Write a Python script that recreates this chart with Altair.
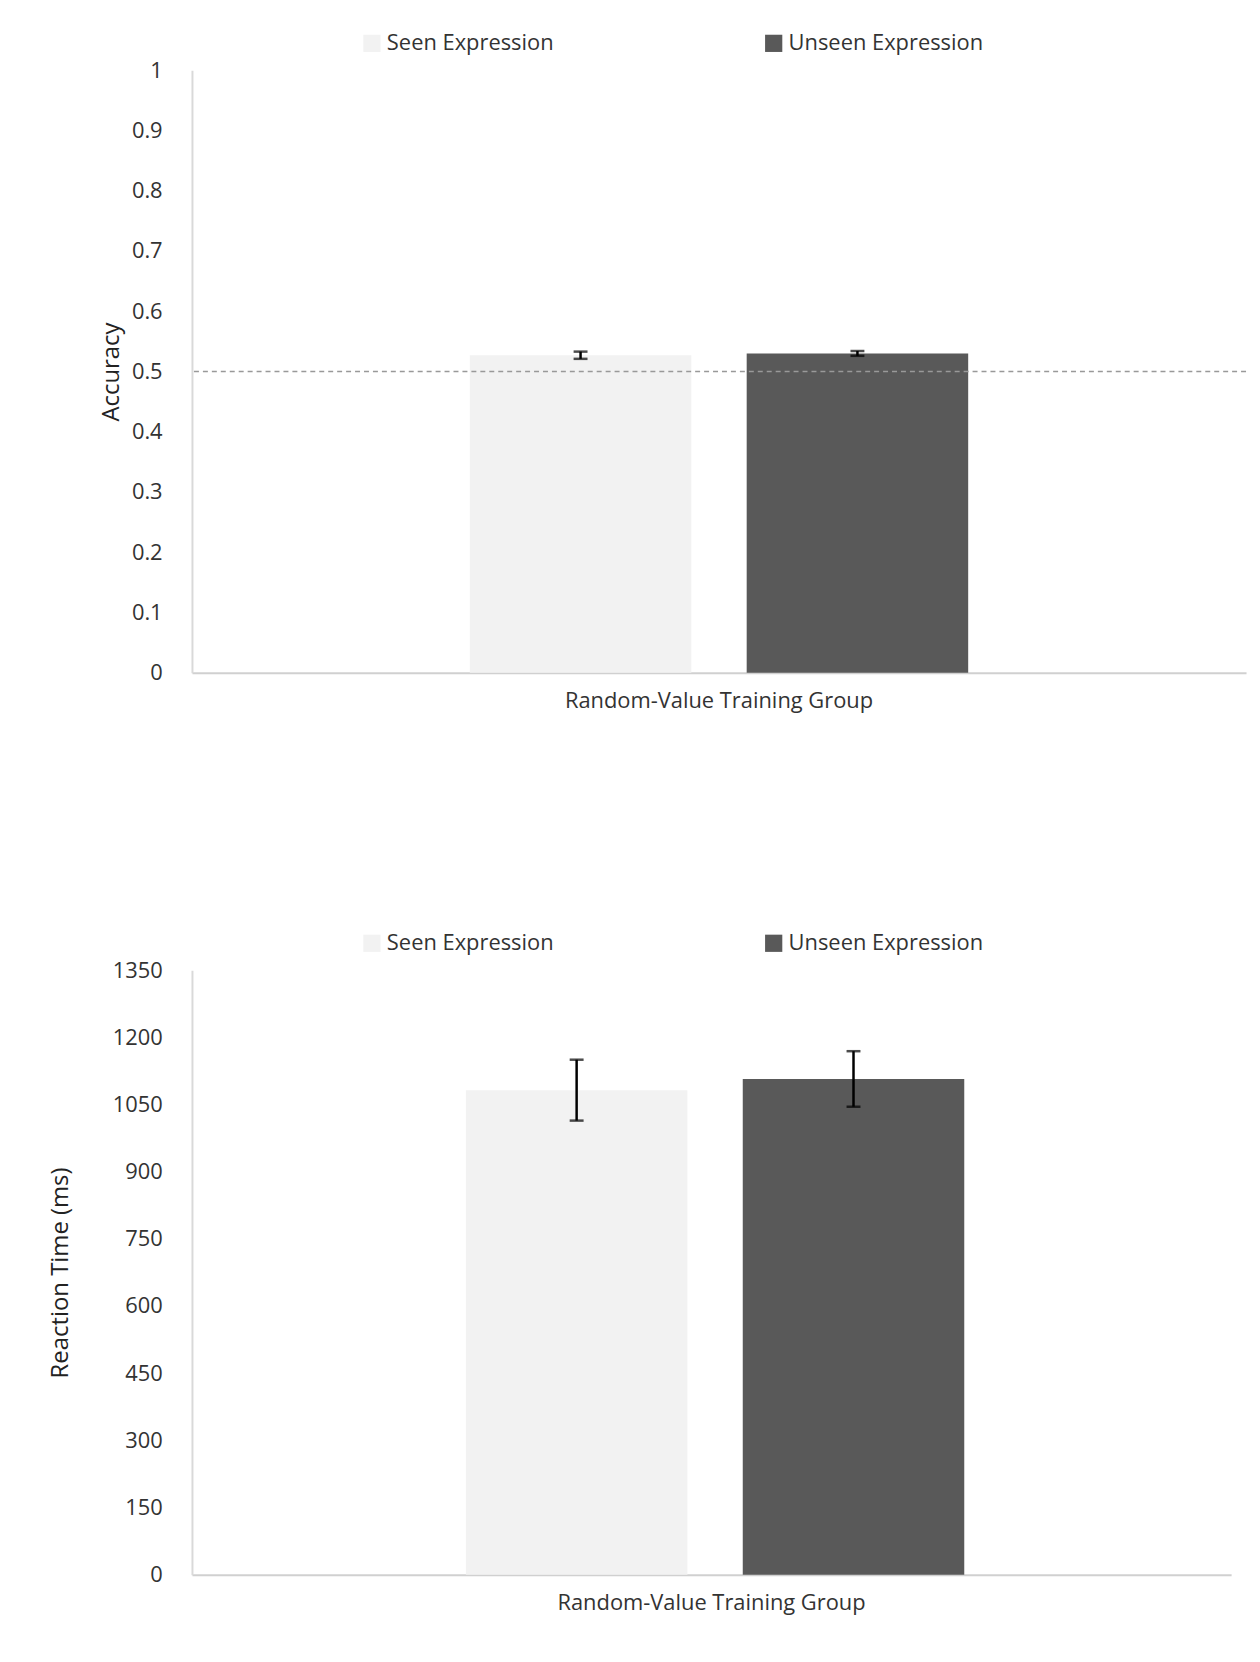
import pandas as pd
import altair as alt

group = "Random-Value Training Group"
series = ["Seen Expression", "Unseen Expression"]
colors = ["#f2f2f2", "#595959"]

acc_mean = [0.527, 0.530]
acc_err = [0.006, 0.004]
rt_mean = [1082, 1107]
rt_err = [68, 62]

FONT = "Open Sans"


def panel(means, errs, ytitle, ymax, ystep, fmt, title_pad, ref=None):
    df = pd.DataFrame({
        "g": [group] * 2,
        "s": series,
        "v": means,
        "lo": [m - e for m, e in zip(means, errs)],
        "hi": [m + e for m, e in zip(means, errs)],
    })
    x = alt.X("g:N", title=None,
              scale=alt.Scale(paddingOuter=0.446),
              axis=alt.Axis(labelAngle=0, labelFontSize=22, labelColor="#333",
                            labelPadding=18, labelLimit=600, ticks=False,
                            domainColor="#d0d0d0", domainWidth=2))
    xo = alt.XOffset("s:N", sort=series,
                     scale=alt.Scale(paddingInner=0.2, paddingOuter=0))
    y = alt.Y("v:Q", title=ytitle,
              scale=alt.Scale(domain=[0, ymax], nice=False),
              axis=alt.Axis(values=[round(i * ystep, 2) for i in range(int(round(ymax / ystep)) + 1)],
                            format=fmt, grid=False, ticks=False, labelFontSize=22,
                            labelColor="#333", labelPadding=30, titleFontSize=24,
                            titleFontWeight="normal", titleColor="#222",
                            titlePadding=title_pad,
                            domainColor="#d9d9d9", domainWidth=2))
    bars = alt.Chart(df).mark_bar().encode(
        x=x, xOffset=xo, y=y,
        color=alt.Color("s:N", sort=series,
                        scale=alt.Scale(domain=series, range=colors),
                        legend=alt.Legend(title=None, orient="none", direction="horizontal",
                                          legendX=170, legendY=-38, columnPadding=210,
                                          symbolType="square", symbolSize=300,
                                          symbolStrokeWidth=0, labelFontSize=22,
                                          labelLimit=400, labelColor="#333")),
    )
    rule = alt.Chart(df).mark_rule(color="black", strokeWidth=2.5).encode(
        x=alt.X("g:N"), xOffset=xo, y="lo:Q", y2="hi:Q")
    caps = []
    for f in ["lo", "hi"]:
        caps.append(alt.Chart(df).mark_tick(color="black", thickness=2.5, size=14,
                                            orient="horizontal").encode(
            x=alt.X("g:N"), xOffset=xo, y=f"{f}:Q"))
    layers = [bars, rule] + caps
    if ref is not None:
        rdf = pd.DataFrame({"r": [ref]})
        layers.append(alt.Chart(rdf).mark_rule(color="#999", strokeDash=[5, 4],
                                               strokeWidth=1.5).encode(y="r:Q"))
    return alt.layer(*layers)


top = panel(acc_mean, acc_err, "Accuracy", 1.0, 0.1, "~g", 8, ref=0.5).properties(
    width=1060, height=606)
bottom = panel(rt_mean, rt_err, "Reaction Time (ms)", 1350, 150, "d", 40).properties(
    width=1045, height=608)

chart = alt.vconcat(top, bottom, spacing=222).configure(
    font=FONT, padding={"left": 40, "top": 20, "right": 5, "bottom": 5}
).configure_view(strokeWidth=0).resolve_scale(color="independent")

chart.save("out.html", embed_options={"renderer": "svg", "actions": False})
